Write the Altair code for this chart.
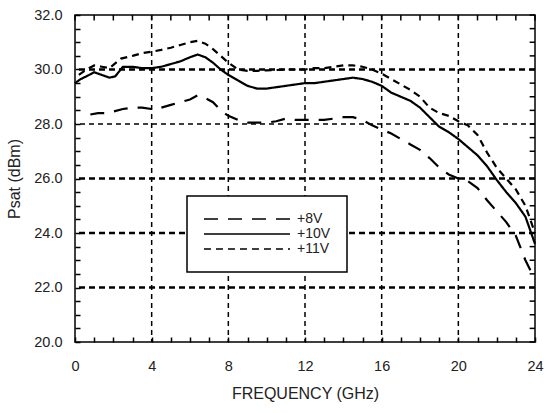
import altair as alt
import pandas as pd

# Saturated output power vs. frequency for three drain voltages
freq_8v = [0.8, 1.2, 1.7, 2.5, 3.0, 3.5, 4.0, 4.5, 5.0, 5.5, 6.0, 6.4, 6.8, 7.2, 7.6,
           8.0, 8.5, 9.0, 9.5, 10.0, 10.5, 11.0, 11.5, 12.0, 12.5, 13.0, 13.5, 14.0,
           14.5, 15.0, 15.5, 16.0, 16.5, 17.0, 17.5, 18.0, 18.5, 19.0, 19.5, 20.0,
           20.5, 21.0, 21.5, 22.0, 22.5, 23.0, 23.5, 24.0]
psat_8v = [28.35, 28.4, 28.4, 28.55, 28.6, 28.6, 28.55, 28.6, 28.7, 28.8, 28.9, 29.05,
           28.95, 28.8, 28.5, 28.3, 28.15, 28.05, 28.05, 28.05, 28.1, 28.2, 28.15,
           28.15, 28.15, 28.15, 28.2, 28.25, 28.25, 28.15, 27.95, 27.8, 27.65, 27.45,
           27.25, 27.05, 26.75, 26.4, 26.15, 26.0, 25.9, 25.65, 25.2, 24.8, 24.4,
           23.9, 23.0, 22.3]

freq_10v = [0, 0.3, 0.6, 1.0, 1.4, 1.8, 2.1, 2.5, 3.0, 3.5, 4.0, 4.5, 5.0, 5.5, 6.0,
            6.4, 6.8, 7.2, 7.6, 8.0, 8.5, 9.0, 9.5, 10.0, 10.5, 11.0, 11.5, 12.0,
            12.5, 13.0, 13.5, 14.0, 14.5, 15.0, 15.5, 16.0, 16.5, 17.0, 17.5, 18.0,
            18.5, 19.0, 19.5, 20.0, 20.5, 21.0, 21.5, 22.0, 22.5, 23.0, 23.5, 24.0]
psat_10v = [29.5, 29.65, 29.75, 29.9, 29.8, 29.7, 29.75, 30.1, 30.1, 30.05, 30.05,
            30.1, 30.2, 30.3, 30.45, 30.55, 30.45, 30.25, 30.0, 29.8, 29.6, 29.4,
            29.3, 29.3, 29.35, 29.4, 29.45, 29.5, 29.5, 29.55, 29.6, 29.65, 29.7,
            29.65, 29.55, 29.4, 29.15, 29.0, 28.85, 28.6, 28.25, 27.9, 27.7, 27.45,
            27.15, 26.85, 26.45, 25.95, 25.5, 25.1, 24.6, 23.6]

freq_11v = [0.2, 0.6, 1.0, 1.4, 1.8, 2.4, 3.0, 3.5, 4.0, 4.5, 5.0, 5.5, 6.0, 6.4, 6.8,
            7.2, 7.6, 8.0, 8.5, 9.0, 9.5, 10.0, 10.5, 11.0, 11.5, 12.0, 12.5, 13.0,
            13.5, 14.0, 14.5, 15.0, 15.5, 16.0, 16.5, 17.0, 17.5, 18.0, 18.5, 19.0,
            19.5, 20.0, 20.5, 21.0, 21.5, 22.0, 22.5, 23.0, 23.5, 24.0]
psat_11v = [29.8, 30.0, 30.15, 30.1, 30.05, 30.4, 30.5, 30.6, 30.65, 30.72, 30.8,
            30.9, 31.0, 31.05, 30.95, 30.75, 30.5, 30.25, 30.0, 29.95, 29.95, 29.97,
            29.98, 30.0, 30.0, 30.0, 30.05, 30.05, 30.1, 30.15, 30.15, 30.1, 30.0,
            29.85, 29.65, 29.45, 29.25, 29.0, 28.6, 28.4, 28.3, 28.1, 27.95, 27.6,
            26.95, 26.4, 26.0, 25.6, 25.0, 24.0]

series_order = ["+8V", "+10V", "+11V"]
dash_styles = [[14, 10], [1, 0], [7, 5]]

# ticks every 1 GHz / 0.5 dB, labelled every 4 GHz / 2 dB
x_minor = list(range(0, 25))
y_minor = [20 + 0.5 * i for i in range(25)]
grid_x = [4, 8, 12, 16, 20]
grid_y_bold = [22, 24, 26, 30]
grid_y_light = [28]

X_MIN, X_MAX, Y_MIN, Y_MAX = 0, 24, 20, 32
TICK_DX, TICK_DY = 0.28, 0.2  # inward tick length in data units (~5 px)
TICK_PX = 5

curves = pd.concat([
    pd.DataFrame({"f": freq_8v, "p": psat_8v, "series": "+8V"}),
    pd.DataFrame({"f": freq_10v, "p": psat_10v, "series": "+10V"}),
    pd.DataFrame({"f": freq_11v, "p": psat_11v, "series": "+11V"}),
], ignore_index=True)

# short segments for the inward ticks along the top and right edges
ticks_top = pd.DataFrame({"f": x_minor, "p": Y_MAX - TICK_DY, "p2": Y_MAX})
ticks_right = pd.DataFrame({"p": y_minor, "f": X_MAX - TICK_DX, "f2": X_MAX})

FONT = "Liberation Sans"
TEXT = "#222222"

x_scale = alt.Scale(domain=[X_MIN, X_MAX], nice=False, zero=False, padding=0)
y_scale = alt.Scale(domain=[Y_MIN, Y_MAX], nice=False, zero=False, padding=0)

# bottom/left axes: the axis line is pulled into the plot by the tick length,
# so the ticks run from inside the frame out to its edge
x_axis = alt.Axis(values=x_minor, labelExpr="datum.value % 4 == 0 ? datum.label : ''",
                  title="FREQUENCY (GHz)", grid=False, domain=False,
                  ticks=True, tickSize=TICK_PX, tickWidth=1.5, tickColor="black",
                  offset=-TICK_PX, labelPadding=17, labelFlush=False,
                  labelOverlap=False, labelFontSize=14.5, labelFont=FONT,
                  labelColor=TEXT, titleFont=FONT, titleFontSize=16,
                  titleFontWeight="normal", titleColor=TEXT, titlePadding=13)
y_axis = alt.Axis(values=y_minor, labelExpr="datum.value % 2 == 0 ? datum.label : ''",
                  title="Psat (dBm)", grid=False, domain=False,
                  ticks=True, tickSize=TICK_PX, tickWidth=1.5, tickColor="black",
                  offset=-TICK_PX, labelPadding=13, labelFlush=False,
                  labelOverlap=False, labelFontSize=14.5, labelFont=FONT,
                  labelColor=TEXT, titleFont=FONT, titleFontSize=16,
                  titleFontWeight="normal", titleColor=TEXT, titlePadding=11)

# dashed grid
vgrid = alt.Chart(pd.DataFrame({"f": grid_x})).mark_rule(
    color="black", strokeWidth=1.5, strokeDash=[5, 4]
).encode(x=alt.X("f:Q", scale=x_scale, axis=x_axis))

hgrid_bold = alt.Chart(pd.DataFrame({"p": grid_y_bold})).mark_rule(
    color="black", strokeWidth=2.5, strokeDash=[6, 4]
).encode(y=alt.Y("p:Q", scale=y_scale, axis=y_axis))

hgrid_light = alt.Chart(pd.DataFrame({"p": grid_y_light})).mark_rule(
    color="black", strokeWidth=1.5, strokeDash=[5, 4]
).encode(y=alt.Y("p:Q", scale=y_scale, axis=y_axis))

# measured curves
lines = alt.Chart(curves).mark_line(color="black", strokeWidth=2.2).encode(
    x=alt.X("f:Q", scale=x_scale, axis=x_axis),
    y=alt.Y("p:Q", scale=y_scale, axis=y_axis),
    strokeDash=alt.StrokeDash(
        "series:N",
        scale=alt.Scale(domain=series_order, range=dash_styles),
        legend=alt.Legend(
            title=None, orient="none", legendX=112, legendY=181,
            strokeColor="black", fillColor="white", padding=16,
            symbolType="stroke", symbolSize=7400, symbolStrokeWidth=1.4,
            symbolStrokeColor="black", clipHeight=14, rowPadding=1,
            labelOffset=6, labelFontSize=14, labelFont=FONT, labelColor=TEXT,
        ),
    ),
)

# inward ticks along the top and right edges
top_ticks = alt.Chart(ticks_top).mark_rule(color="black", strokeWidth=1.5).encode(
    x=alt.X("f:Q", scale=x_scale, axis=x_axis),
    y=alt.Y("p:Q", scale=y_scale, axis=y_axis),
    y2="p2:Q",
)
right_ticks = alt.Chart(ticks_right).mark_rule(color="black", strokeWidth=1.5).encode(
    x=alt.X("f:Q", scale=x_scale, axis=x_axis),
    x2="f2:Q",
    y=alt.Y("p:Q", scale=y_scale, axis=y_axis),
)

chart = alt.layer(
    vgrid, hgrid_bold, hgrid_light, lines, top_ticks, right_ticks,
).properties(
    width=460, height=327,
    autosize=alt.AutoSizeParams(type="none"),
    padding={"left": 75, "top": 15, "right": 14, "bottom": 71},
    background="white",
).configure_view(
    stroke="black", strokeWidth=1.5
).configure_legend(
    strokeWidth=1.5
)

chart.save("out.html", embed_options={"renderer": "svg", "actions": False})
